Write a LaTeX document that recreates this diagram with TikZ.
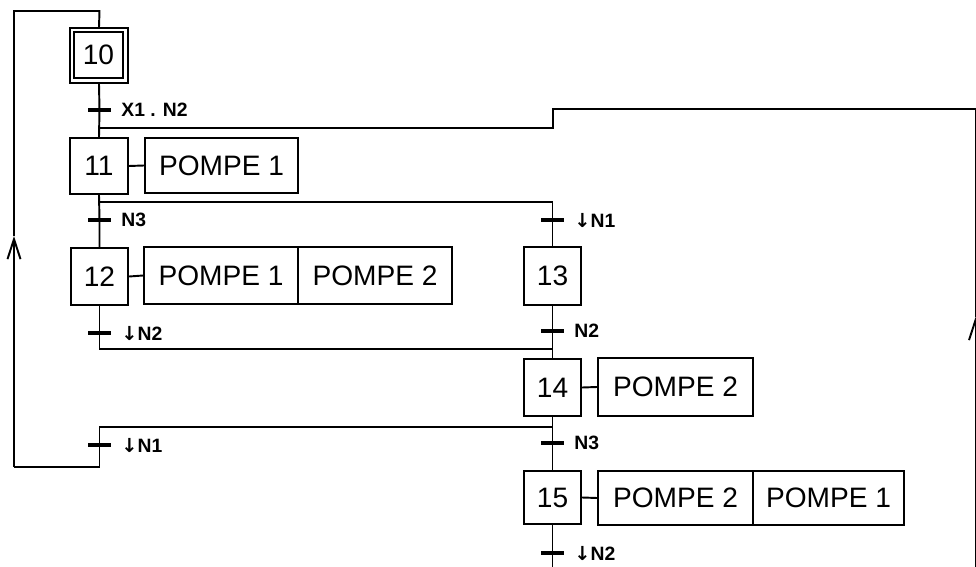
\documentclass[tikz,border=0pt]{standalone}
\usepackage{fontspec}
\setmainfont{Liberation Sans}
\newfontfamily\arrowfont{DejaVu Sans}
\usetikzlibrary{arrows.meta}
\newcommand{\dn}{{\arrowfont\fontsize{11}{13}\selectfont ↓}}
\begin{document}
\begin{tikzpicture}[x=0.02cm,y=-0.02cm,
  line width=1.1pt,
  stepbox/.style={draw, minimum width=1.15cm, minimum height=1.12cm, inner sep=0pt, font=\fontsize{16}{18}\selectfont},
  actbox/.style={draw, minimum height=1.14cm, inner sep=0pt, font=\fontsize{16}{18}\selectfont},
  tbar/.style={fill=black, draw=none, minimum width=0.46cm, minimum height=0.09cm, inner sep=0pt},
  tlab/.style={font=\fontsize{11}{13}\selectfont\bfseries, inner sep=0pt},
  barb/.style={-{Straight Barb[length=0.4cm,width=0.26cm]}}
]
\useasboundingbox (0,0) rectangle (976,567);

% steps
\node[draw, minimum width=1.16cm, minimum height=1.10cm, inner sep=0pt] (s10) at (99,55.5) {};
\node[stepbox, minimum width=0.98cm, minimum height=0.92cm] (s10in) at (98.5,55) {10};
\node[stepbox] (s11) at (99,166) {11};
\node[stepbox, minimum height=1.14cm] (s12) at (99.5,276.5) {12};
\node[stepbox, minimum height=1.16cm] (s13) at (552.5,276) {13};
\node[stepbox, minimum height=1.14cm] (s14) at (552.5,387.5) {14};
\node[stepbox, minimum height=1.06cm] (s15) at (552.5,497.5) {15};

% actions
\node[actbox, minimum width=3.06cm, minimum height=1.10cm] (a11) at (221.5,165.5) {POMPE 1};
\node[actbox, minimum width=3.08cm] (a12a) at (221,275.5) {POMPE 1};
\node[actbox, minimum width=3.08cm] (a12b) at (375,275.5) {POMPE 2};
\node[actbox, minimum width=3.10cm, minimum height=1.16cm] (a14) at (675.5,387) {POMPE 2};
\node[actbox, minimum width=3.10cm, minimum height=1.08cm] (a15a) at (675.5,498) {POMPE 2};
\node[actbox, minimum width=3.02cm, minimum height=1.08cm] (a15b) at (828.5,498) {POMPE 1};

\draw (s11.east) -- (a11.west);
\draw (s12.east) -- (a12a.west);
\draw (s14.east) -- (a14.west);
\draw (s15.east) -- (a15a.west);

% transitions
\node[tbar, label={[tlab,label distance=0.17cm]east:X1 . N2}] (t1) at (99.5,110) {};
\node[tbar, label={[tlab,label distance=0.17cm]east:N3}] (t2) at (99.5,220) {};
\node[tbar, label={[tlab,label distance=0.17cm]east:\dn N1}] (t3) at (552.5,220) {};
\node[tbar, label={[tlab,label distance=0.17cm]east:\dn N2}] (t4) at (99.5,333) {};
\node[tbar, label={[tlab,label distance=0.17cm]east:N2}] (t5) at (552.5,331) {};
\node[tbar, label={[tlab,label distance=0.17cm]east:\dn N1}] (t6) at (99.5,445) {};
\node[tbar, label={[tlab,label distance=0.17cm]east:N3}] (t7) at (552.5,443) {};
\node[tbar, label={[tlab,label distance=0.17cm]east:\dn N2}] (t8) at (552.5,553) {};

% coordinates
\coordinate (r11) at (99.5,128);
\coordinate (rstep) at (553,128);
\coordinate (rstepu) at (553,109);
\coordinate (rtop) at (975.5,109);
\coordinate (rarr) at (975.5,317);
\coordinate (rbot) at (975.5,567);
\coordinate (d11) at (99.5,202);
\coordinate (d11r) at (552.5,202);
\coordinate (c12) at (99.5,349);
\coordinate (c12r) at (552.5,349);
\coordinate (d14) at (552.5,427);
\coordinate (d14l) at (99.5,427);
\coordinate (lb1) at (99.5,467);
\coordinate (lb2) at (14,467);
\coordinate (larr) at (14,236);
\coordinate (lt1) at (14,11);
\coordinate (lt2) at (99.5,11);
\coordinate (bot) at (552.5,567);

% left column
\draw (s10.south) -- (t1.center) -- (s11.north);
\draw (s11.south) -- (t2.center) -- (s12.north);
\draw (s12.south) -- (t4.center) -- (c12) -- (c12r);
\draw (d11) -- (d11r) -- (t3.center) -- (s13.north);

% right column
\draw (s13.south) -- (t5.center) -- (s14.north);
\draw (s14.south) -- (t7.center) -- (s15.north);
\draw (s15.south) -- (t8.center) -- (bot);

% loop back to 10
\draw (d14) -- (d14l) -- (t6.center) -- (lb1) -- (lb2);
\draw[barb] (lb2) -- (larr);
\draw (larr) -- (lt1) -- (lt2) -- (s10.north);

% return to 11
\draw[barb] (rbot) -- (rarr);
\draw (rarr) -- (rtop) -- (rstepu) -- (rstep) -- (r11);
\end{tikzpicture}
\end{document}
